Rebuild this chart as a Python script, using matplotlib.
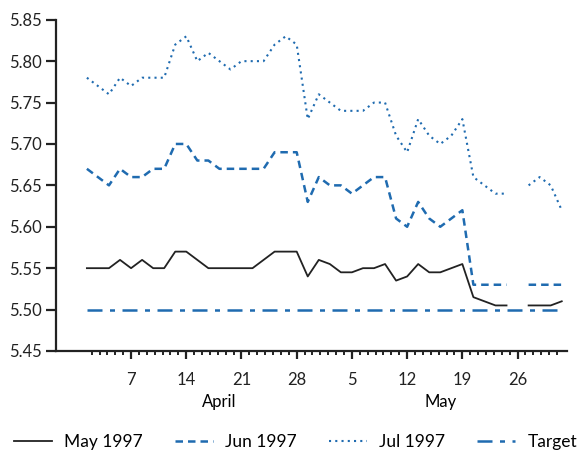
import numpy as np
import matplotlib
matplotlib.use("Agg")
import matplotlib.pyplot as plt

# business days from 1 April to 30 May 1997 (26 May holiday -> missing)
may97 = [5.55, 5.55, 5.55, 5.56, 5.55, 5.56, 5.55, 5.55, 5.57, 5.57,
         5.56, 5.55, 5.55, 5.55, 5.55, 5.55, 5.56, 5.57, 5.57, 5.57,
         5.54, 5.56, 5.555, 5.545, 5.545, 5.55, 5.55, 5.555, 5.535, 5.54,
         5.555, 5.545, 5.545, 5.55, 5.555, 5.515, 5.51, 5.505, 5.505, np.nan,
         5.505, 5.505, 5.505, 5.51]
jun97 = [5.67, 5.66, 5.65, 5.67, 5.66, 5.66, 5.67, 5.67, 5.70, 5.70,
         5.68, 5.68, 5.67, 5.67, 5.67, 5.67, 5.67, 5.69, 5.69, 5.69,
         5.63, 5.66, 5.65, 5.65, 5.64, 5.65, 5.66, 5.66, 5.61, 5.60,
         5.63, 5.61, 5.60, 5.61, 5.62, 5.53, 5.53, 5.53, 5.53, np.nan,
         5.53, 5.53, 5.53, 5.53]
jul97 = [5.78, 5.77, 5.76, 5.78, 5.77, 5.78, 5.78, 5.78, 5.82, 5.83,
         5.80, 5.81, 5.80, 5.79, 5.80, 5.80, 5.80, 5.82, 5.83, 5.82,
         5.73, 5.76, 5.75, 5.74, 5.74, 5.74, 5.75, 5.75, 5.71, 5.69,
         5.73, 5.71, 5.70, 5.71, 5.73, 5.66, 5.65, 5.64, 5.64, np.nan,
         5.65, 5.66, 5.65, 5.62]
target = [5.50] * 44

tick_days = [7, 14, 21, 28, 5, 12, 19, 26]
tick_pos = [4, 9, 14, 19, 24, 29, 34, 39]   # business-day index of each Monday
months = ["April", "May"]
month_pos = [12, 32]

blue = "#1f6bb0"
x = np.arange(len(may97))

fig = plt.figure(figsize=(5.83, 4.55), dpi=100)
ax = fig.add_axes([0.096, 0.2286, 0.877, 0.728])
plt.rcParams['font.family'] = ['Lato', 'DejaVu Sans']

ax.plot(x, may97, color="#222222", lw=1.3, label="May 1997")
ax.plot(x, jun97, color=blue, lw=1.8, ls=(0, (3, 2)), label="Jun 1997")
ax.plot(x, jul97, color=blue, lw=1.5, ls=(0, (1, 2)), label="Jul 1997")
ax.plot(x, target, color=blue, lw=1.8, ls=(0, (6, 3, 2, 3)), label="Target")

ax.set_xlim(-2.8, 43.5)
ax.set_ylim(5.45, 5.85)
ax.set_yticks(np.arange(5.45, 5.851, 0.05))
ax.set_yticklabels(["%.2f" % v for v in np.arange(5.45, 5.851, 0.05)], family="Lato", fontsize=12)
ax.set_xticks(tick_pos)
ax.set_xticklabels([str(d) for d in tick_days], family="Lato", fontsize=12)
minor = [4 + k * 5 / 7 for k in range(-5, 55)]
ax.set_xticks(minor, minor=True)

for s in ["top", "right"]:
    ax.spines[s].set_visible(False)
for s in ["left", "bottom"]:
    ax.spines[s].set_linewidth(1.6)
    ax.spines[s].set_color("#222222")
ax.tick_params(axis="y", length=7, width=1.6, pad=3, colors="#222222")
ax.tick_params(axis="x", which="major", length=6, width=1.6, pad=9, colors="#222222")
ax.tick_params(axis="x", which="minor", length=3, width=1.4, colors="#222222")

for m, p in zip(months, month_pos):
    ax.text(p, -0.155, m, transform=ax.get_xaxis_transform(), ha="center", va="center",
            family="Lato", fontsize=12)

fig.legend(loc="center", bbox_to_anchor=(0.012, 0.019, 0.99, 0.02), mode="expand", ncol=4,
           frameon=False, handlelength=2.2, handletextpad=0.7, borderaxespad=0,
           prop={"family": "Lato", "size": 12.5})

fig.savefig("out.png", dpi=100)
